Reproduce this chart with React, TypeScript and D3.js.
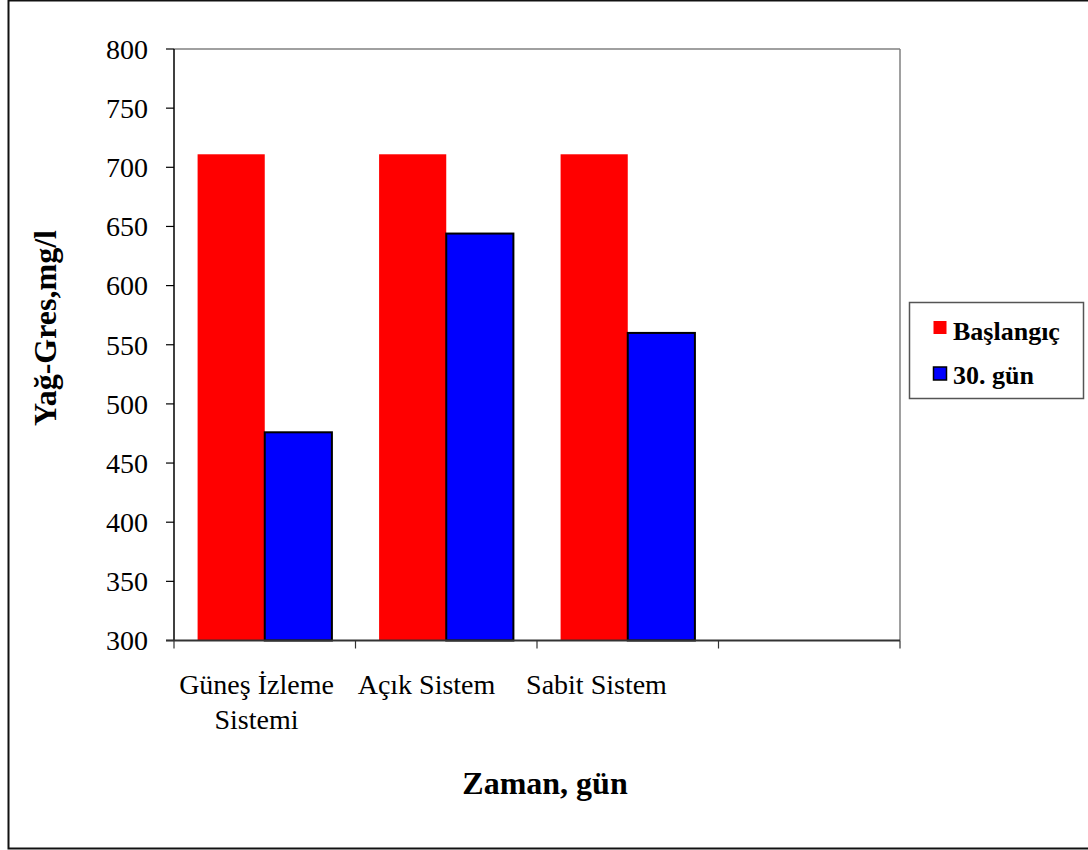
import React from "react";
import * as d3 from "d3";

const categories = ["Güneş İzleme Sistemi", "Açık Sistem", "Sabit Sistem", ""];
const categoryLines = [["Güneş İzleme", "Sistemi"], ["Açık Sistem"], ["Sabit Sistem"], []];
const seriesNames = ["Başlangıç", "30. gün"];
const baslangic = [711, 711, 711, null];
const gun30 = [476, 644, 560, null];
const yTicks = [300, 350, 400, 450, 500, 550, 600, 650, 700, 750, 800];

const colors = ["#ff0000", "#0000ff"];
const FONT = "'Liberation Serif', 'Times New Roman', 'DejaVu Serif', serif";
const serif = { fontFamily: FONT };

export default function App() {
  const W = 1088;
  const H = 850;
  const left = 174;
  const right = 900;
  const top = 49;
  const bottom = 640.5;

  const x0 = d3.scaleBand<string>().domain(categories.map((c, i) => String(i))).range([left, right]).padding(0);
  const bw = x0.bandwidth();
  const gap = bw * 0.13;
  const x1 = d3.scaleBand<string>().domain(seriesNames).range([gap, bw - gap]).padding(0);
  const y = d3.scaleLinear().domain([300, 800]).range([bottom, top]);

  const seriesValues = [baslangic, gun30];
  // category labels are laid out on a slightly tighter spacing than the bands
  const labelStep = 170;
  const labelX = (i: number) => left + 82.5 + labelStep * i;

  return (
    <div style={{ position: "absolute", left: 0, top: 0, width: W, height: H, background: "#fff" }}>
      <svg width={W} height={H} style={{ display: "block", ...serif }}>
        <rect x={0} y={0} width={W} height={H} fill="#fff" />
        {/* outer frame */}
        <rect x={8.5} y={0.5} width={W + 10} height={848} fill="none" stroke="#111" strokeWidth={2} />

        {/* plot area frame (top and right) */}
        <line x1={left} x2={right} y1={top} y2={top} stroke="#808080" strokeWidth={1.5} />
        <line x1={right} x2={right} y1={top} y2={bottom} stroke="#808080" strokeWidth={1.5} />

        {/* bars */}
        {seriesValues.map((vals, si) =>
          vals.map((v, ci) =>
            v == null ? null : (
              <rect
                key={`${si}-${ci}`}
                x={(x0(String(ci)) as number) + (x1(seriesNames[si]) as number)}
                y={y(v)}
                width={x1.bandwidth()}
                height={bottom - y(v)}
                fill={colors[si]}
                stroke={si === 1 ? "#000" : "none"}
                strokeWidth={si === 1 ? 2 : 0}
              />
            )
          )
        )}

        {/* y axis */}
        <line x1={left} x2={left} y1={top} y2={bottom} stroke="#000" strokeWidth={1.5} />
        {yTicks.map((t) => (
          <g key={t}>
            <line x1={left - 8} x2={left} y1={y(t)} y2={y(t)} stroke="#000" strokeWidth={1.2} />
            <text x={148} y={y(t)} dy="0.35em" textAnchor="end" fontSize={28} fill="#000" style={serif}>
              {t}
            </text>
          </g>
        ))}

        {/* x axis */}
        <line x1={left - 8} x2={right} y1={bottom} y2={bottom} stroke="#333" strokeWidth={2} />
        {categories.map((c, i) => (
          <line key={`t${i}`} x1={x0(String(i)) as number} x2={x0(String(i)) as number} y1={bottom} y2={bottom + 8} stroke="#333" strokeWidth={1.2} />
        ))}
        <line x1={right} x2={right} y1={bottom} y2={bottom + 8} stroke="#333" strokeWidth={1.2} />
        {categoryLines.map((lines, i) =>
          lines.map((ln, li) => (
            <text key={`c${i}-${li}`} x={labelX(i)} y={694 + li * 35} textAnchor="middle" fontSize={28} fill="#000" style={serif}>
              {ln}
            </text>
          ))
        )}

        {/* axis titles */}
        <text x={545} y={794} textAnchor="middle" fontSize={32} fontWeight="bold" fill="#000" style={serif}>
          Zaman, gün
        </text>
        <text transform="translate(56,328) rotate(-90)" textAnchor="middle" fontSize={32} fontWeight="bold" fill="#000" style={serif}>
          Yağ-Gres,mg/l
        </text>

        {/* legend */}
        <rect x={909.5} y={302.5} width={174} height={96} fill="#fff" stroke="#555" strokeWidth={1.5} />
        {seriesNames.map((s, i) => (
          <g key={s}>
            <rect
              x={933.5}
              y={321 + i * 46}
              width={13}
              height={13}
              fill={colors[i]}
              stroke={i === 1 ? "#000" : "none"}
              strokeWidth={i === 1 ? 1.5 : 0}
            />
            <text x={953} y={340 + i * 44} fontSize={26} fontWeight="bold" fill="#000" style={serif}>
              {s}
            </text>
          </g>
        ))}
      </svg>
    </div>
  );
}
